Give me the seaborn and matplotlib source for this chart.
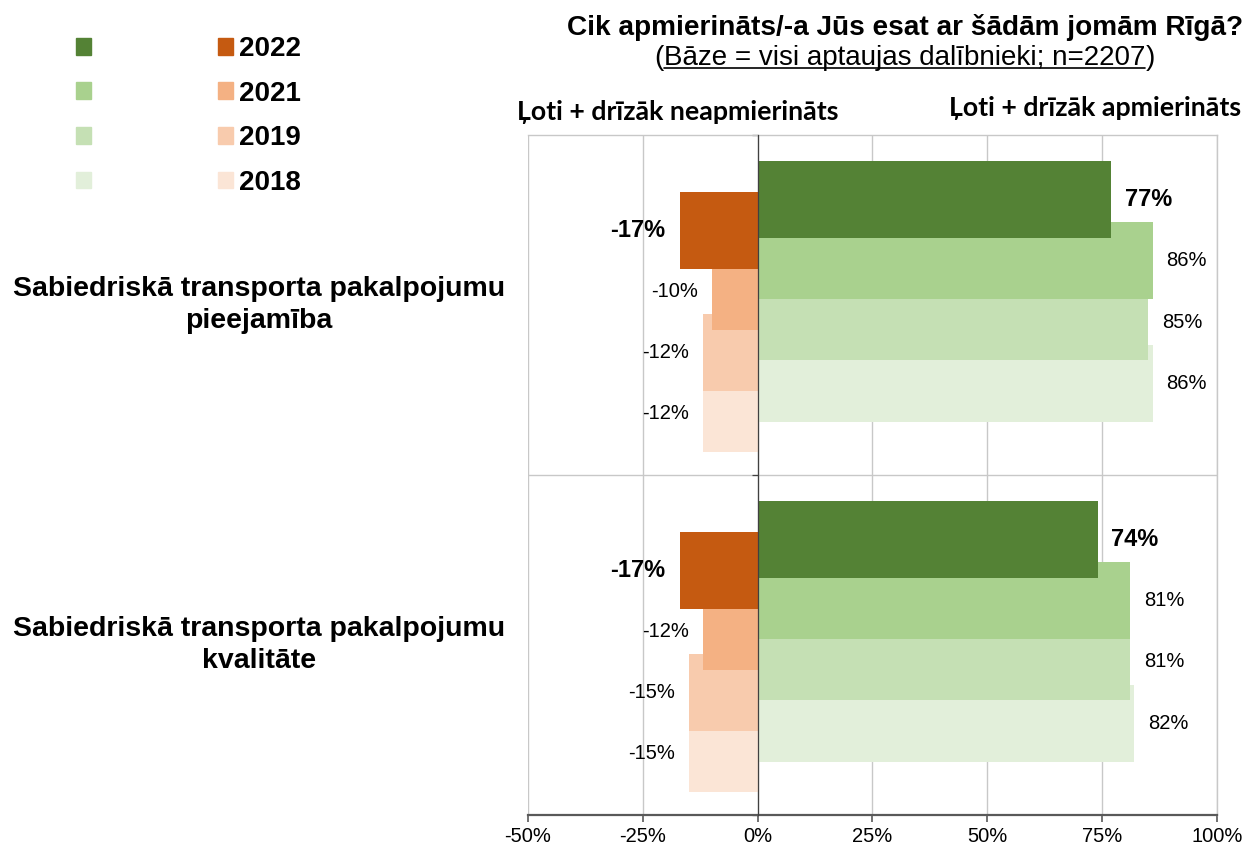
import numpy as np
import matplotlib
matplotlib.use("Agg")
from matplotlib import pyplot as plt
from matplotlib.patches import Patch
from matplotlib.lines import Line2D
import matplotlib.transforms as mtransforms
import seaborn as sns

# Data
categories = ["Sabiedriskā transporta pakalpojumu\npieejamība",
              "Sabiedriskā transporta pakalpojumu\nkvalitāte"]
years = ["2022", "2021", "2019", "2018"]

# "Ļoti + drīzāk apmierināts" (%)
sat_2022 = [77, 74]
sat_2021 = [86, 81]
sat_2019 = [85, 81]
sat_2018 = [86, 82]

# "Ļoti + drīzāk neapmierināts" (%)
dis_2022 = [-17, -17]
dis_2021 = [-10, -12]
dis_2019 = [-12, -15]
dis_2018 = [-12, -15]

x_ticks = [-50, -25, 0, 25, 50, 75, 100]

green_colors = ["#548235", "#A9D18E", "#C5E0B4", "#E2EFDA"]
orange_colors = ["#C55A11", "#F4B183", "#F8CBAD", "#FBE5D6"]

sat_values = [sat_2022, sat_2021, sat_2019, sat_2018]
dis_values = [dis_2022, dis_2021, dis_2019, dis_2018]

# bar layout (overlapping bars, shifted inside each category band)
green_off = [-0.31, -0.13, 0.05, 0.23]
orange_off = [-0.22, -0.04, 0.14, 0.32]
bar_h = 0.226

sns.set_theme(style="white")
plt.rcParams["font.family"] = ["Liberation Sans", "DejaVu Sans"]
plt.rcParams["text.color"] = "black"
plt.rcParams["xtick.color"] = "black"
plt.rcParams["ytick.color"] = "black"

fig = plt.figure(figsize=(12.6, 8.47), dpi=100)
ax = fig.add_axes([0.419, 0.0378, 0.5469, 0.8028])

pos = np.arange(len(categories))

# draw oldest first so newer bars sit on top
for i in [3, 2, 1, 0]:
    sns.barplot(x=sat_values[i], y=pos + green_off[i], orient="y", native_scale=True,
                width=bar_h, color=green_colors[i], saturation=1, linewidth=0,
                errorbar=None, ax=ax, zorder=3)
    ax.bar_label(ax.containers[-1], labels=[f"{v}%" for v in sat_values[i]],
                 padding=10, fontsize=17 if i == 0 else 14.5,
                 fontweight="bold" if i == 0 else "normal", color="black")
    sns.barplot(x=dis_values[i], y=pos + orange_off[i], orient="y", native_scale=True,
                width=bar_h, color=orange_colors[i], saturation=1, linewidth=0,
                errorbar=None, ax=ax, zorder=3)
    ax.bar_label(ax.containers[-1], labels=[f"{v}%" for v in dis_values[i]],
                 padding=10, fontsize=17 if i == 0 else 14.5,
                 fontweight="bold" if i == 0 else "normal", color="black")

ax.set_xlim(-50, 100)
ax.set_ylim(1.5, -0.5)
ax.set_xlabel("")
ax.set_ylabel("")

grid_c = "#C8C8C8"
ax.set_xticks(x_ticks)
ax.set_xticklabels([f"{t}%" for t in x_ticks], fontsize=14.5)
ax.xaxis.grid(True, color=grid_c, linewidth=1)
ax.yaxis.grid(False)
ax.set_axisbelow(True)
ax.axhline(0.5, color=grid_c, linewidth=1, zorder=0)

ax.set_yticks([-0.5, 0, 0.5, 1, 1.5])
ax.set_yticklabels([])
ax.spines["left"].set_position(("data", 0))
ax.spines["left"].set_color("#404040")
ax.spines["left"].set_linewidth(0.9)
ax.spines["left"].set_zorder(4)
ax.spines["bottom"].set_color("#595959")
ax.spines["bottom"].set_linewidth(1.6)
for s in ["top", "right"]:
    ax.spines[s].set_color(grid_c)
    ax.spines[s].set_linewidth(1)
ax.tick_params(axis="y", direction="out", length=4, width=0.9, color="#404040", left=True)
ax.tick_params(axis="x", direction="out", length=5, width=1.2, color="#595959", bottom=True, pad=4)

# category labels on the left
trans = mtransforms.blended_transform_factory(fig.transFigure, ax.transData)
for k, cat in enumerate(categories):
    ax.text(0.2056, pos[k], cat, transform=trans, ha="center", va="center",
            fontsize=20.5, fontweight="bold", multialignment="center", linespacing=1.32)

# titles
fig.text(0.718, 0.968, "Cik apmierināts/-a Jūs esat ar šādām jomām Rīgā?",
         ha="center", va="center", fontsize=20.2, fontweight="bold")
sub = fig.text(0.718, 0.9315, "Bāze = visi aptaujas dalībnieki; n=2207",
               ha="center", va="center", fontsize=20)
fig.canvas.draw()
bb = sub.get_window_extent().transformed(fig.transFigure.inverted())
fig.text(bb.x0, 0.9315, "(", ha="right", va="center", fontsize=20)
fig.text(bb.x1, 0.9315, ")", ha="left", va="center", fontsize=20)
fig.add_artist(Line2D([bb.x0, bb.x1], [bb.y0 + 0.003, bb.y0 + 0.003],
                      transform=fig.transFigure, color="black", linewidth=1.2))

fig.text(0.538, 0.868, "Ļoti + drīzāk neapmierināts", ha="center", va="center",
         fontsize=19.3, fontweight="bold", family=["Lato", "DejaVu Sans"])
fig.text(0.869, 0.872, "Ļoti + drīzāk apmierināts", ha="center", va="center",
         fontsize=19.3, fontweight="bold", family=["Lato", "DejaVu Sans"])

# legend: green column without labels, orange column with years
handles = [Patch(color=c) for c in green_colors] + [Patch(color=c) for c in orange_colors]
labels = [""] * 4 + years
fig.legend(handles, labels, ncol=2, loc="upper left", bbox_to_anchor=(76 / 1260, 1 - 36 / 847),
           frameon=False, prop={"weight": "bold", "size": 20}, handlelength=0.55,
           handleheight=0.55, handletextpad=0.2, columnspacing=4.35, labelspacing=0.67,
           borderpad=0, borderaxespad=0)

fig.savefig("out.png", dpi=100)
